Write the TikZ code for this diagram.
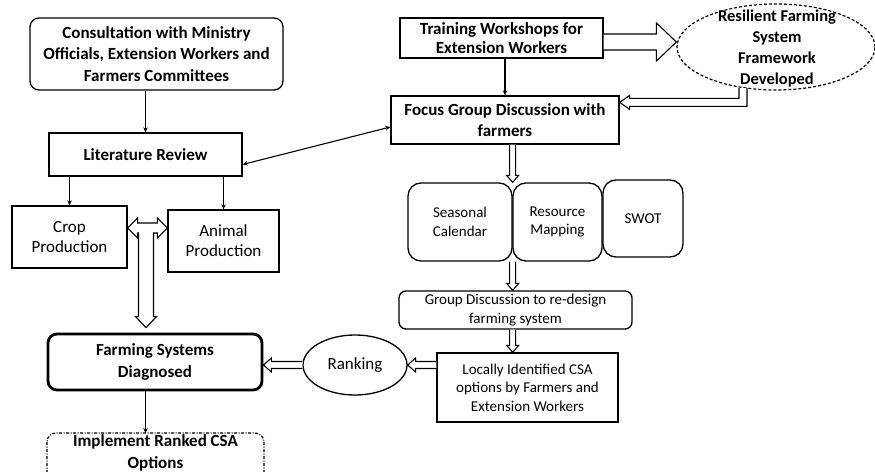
\documentclass[tikz,border=0pt]{standalone}
\usepackage{fontspec}
\setmainfont{Carlito}
\usetikzlibrary{arrows.meta,calc,shapes.geometric}
\newcommand\hollowDown[5]{%
  \path[hol] let \p1=(#1), \p2=(#2) in (\x1-#3,\y1) -- (\x1-#3,\y2+#5) -- (\x1-#4,\y2+#5) -- (\x1,\y2) -- (\x1+#4,\y2+#5) -- (\x1+#3,\y2+#5) -- (\x1+#3,\y1);}
\newcommand\hollowLeft[5]{%
  \path[hol] let \p1=(#1), \p2=(#2) in (\x1,\y2+#3) -- (\x2+#5,\y2+#3) -- (\x2+#5,\y2+#4) -- (\x2,\y2) -- (\x2+#5,\y2-#4) -- (\x2+#5,\y2-#3) -- (\x1,\y2-#3);}
\newcommand\hollowRight[5]{%
  \path[hol] let \p1=(#1), \p2=(#2) in (\x1,\y2+#3) -- (\x2-#5,\y2+#3) -- (\x2-#5,\y2+#4) -- (\x2,\y2) -- (\x2-#5,\y2-#4) -- (\x2-#5,\y2-#3) -- (\x1,\y2-#3);}
\begin{document}
\begin{tikzpicture}[x=1pt,y=-1pt,
  every node/.style={inner sep=0pt, align=center},
  bx/.style={draw, line width=1.3pt},
  rbx/.style={bx, rounded corners=#1},
  big/.style={font=\fontsize{17}{21.5}\selectfont\bfseries},
  mid/.style={font=\fontsize{17}{20}\selectfont},
  sml/.style={font=\fontsize{15}{18.5}\selectfont},
  thinarr/.style={line width=1.1pt, -{Stealth[length=5pt,width=4.5pt]}},
  thinboth/.style={line width=1.1pt, {Stealth[length=5pt,width=4.5pt]}-{Stealth[length=5pt,width=4.5pt]}},
  hol/.style={draw, line width=1.1pt, fill=white, line join=miter},
  dashdot/.style={draw, line width=1.2pt, dash pattern=on 3pt off 1.5pt on 1pt off 1.5pt, rounded corners=9pt},
]
\useasboundingbox (0,0) rectangle (875,471);
\clip (0,0) rectangle (875,471);

% left column
\node[rbx=9pt, big, minimum width=253pt, minimum height=72pt] (consult) at (156.5,54)
  {Consultation with Ministry\\Officials, Extension Workers and\\Farmers Committees};
\node[bx, big, minimum width=193pt, minimum height=43pt] (lit) at (145.5,154.5) {Literature Review};
\node[bx, mid, minimum width=115pt, minimum height=62pt] (crop) at (69.5,237) {Crop\\Production};
\node[bx, mid, minimum width=111pt, minimum height=62pt] (animal) at (223.5,241) {Animal\\Production};
\node[draw, line width=2.8pt, rounded corners=9pt, big, minimum width=214pt, minimum height=56pt] (farming) at (155,362)
  {Farming Systems\\Diagnosed};
\node[big] (impl) at (155.5,453) {Implement Ranked CSA\\Options};
\coordinate (implN) at ($(impl.center)+(0,-20)$);
\path[dashdot] ($(impl.center)+(-108.5,-20)$) rectangle ($(impl.center)+(108.5,40)$);

% middle / right
\node[draw, ellipse, line width=1.3pt, mid, minimum width=104pt, minimum height=60pt] (rank) at (355,365) {Ranking};
\node[bx, sml, minimum width=181pt, minimum height=69pt] (local) at (527.5,387.5)
  {Locally Identified CSA\\options by Farmers and\\Extension Workers};
\node[rbx=7pt, sml, minimum width=233pt, minimum height=38pt] (group) at (515.5,310)
  {Group Discussion to re-design\\farming system};
\node[rbx=13pt, sml, minimum width=104pt, minimum height=78pt] (seas) at (460,222) {Seasonal\\Calendar};
\node[rbx=13pt, sml, minimum width=89pt, minimum height=78pt] (res) at (557.5,222) {Resource\\Mapping};
\node[rbx=13pt, sml, minimum width=80pt, minimum height=77pt] (swot) at (643,218.5) {SWOT};
\node[bx, big, minimum width=228pt, minimum height=48pt] (focus) at (505,120)
  {Focus Group Discussion with\\farmers};
\node[bx, font=\fontsize{17}{19}\selectfont\bfseries, minimum width=203pt, minimum height=40pt] (train) at (501.5,38)
  {Training Workshops for\\Extension Workers};
\node[draw, dash pattern=on 3pt off 2pt, line width=1.2pt, ellipse, minimum width=198pt, minimum height=86pt] (resil) at (776,47) {};
\node[font=\fontsize{16.5}{21}\selectfont\bfseries] (resiltxt) at (777,49)
  {Resilient Farming\\System\\Framework\\Developed};

% thin arrows
\draw[thinarr] (consult.south -| lit.north) -- (lit.north);
\draw[thinarr] (lit.south -| crop.north) -- (crop.north);
\draw[thinarr] (lit.south -| animal.north) -- (animal.north);
\draw[thinboth] ($(lit.east)+(0,10)$) -- ($(focus.west)+(0,7)$);
\draw[thinarr] (train.south -| focus.north) -- (focus.north);
\draw[thinarr] (farming.south -| lit.north) -- (implN -| lit.north);

% hollow arrows
\coordinate (ta) at ($(train.east)+(0,4)$);
\hollowRight{ta}{ta -| resil.west}{8pt}{19pt}{20pt}
\coordinate (rb) at ($(resil.center)+(-33,41)$);
\coordinate (fe) at ($(focus.north east)+(0,7)$);
\path[hol] let \p1=(rb), \p2=(fe) in (\x1-4pt,\y1) -- (\x1-4pt,\y2+4pt) -- (\x2+10pt,\y2+4pt) -- (\x2+10pt,\y2+7pt) -- (\x2,\y2) -- (\x2+10pt,\y2-7pt) -- (\x2+10pt,\y2-4pt) -- (\x1+4pt,\y2-4pt) -- (\x1+4pt,\y1);
\hollowDown{focus.south -| seas.east}{seas.north -| seas.east}{3pt}{6pt}{7pt}
\hollowDown{seas.south -| seas.east}{group.north -| seas.east}{3pt}{6pt}{7pt}
\hollowDown{group.south -| seas.east}{local.north -| seas.east}{3pt}{6pt}{7pt}
\hollowLeft{rank.east -| local.west}{rank.east}{3.5pt}{7pt}{8pt}
\hollowLeft{rank.west}{rank.west -| farming.east}{3.5pt}{7pt}{8pt}
\coordinate (tj) at (146,228);
\path[hol] let \p1=(crop.east), \p2=(animal.west), \p3=(farming.north), \p4=(tj) in
  (\x1,\y4) -- (\x1+10pt,\y4+10pt) -- (\x1+10pt,\y4+5pt) -- (\x2-10pt,\y4+5pt) -- (\x2-10pt,\y4+10pt)
  -- (\x2,\y4) -- (\x2-10pt,\y4-10pt) -- (\x2-10pt,\y4-5pt) -- (\x4+7.5pt,\y4-5pt) -- (\x4+7.5pt,\y3+16pt)
  -- (\x4+10.5pt,\y3+16pt) -- (\x4,\y3+5pt) -- (\x4-10.5pt,\y3+16pt) -- (\x4-7.5pt,\y3+16pt)
  -- (\x4-7.5pt,\y4-5pt) -- (\x1+10pt,\y4-5pt) -- (\x1+10pt,\y4-10pt) -- cycle;
\end{tikzpicture}
\end{document}
